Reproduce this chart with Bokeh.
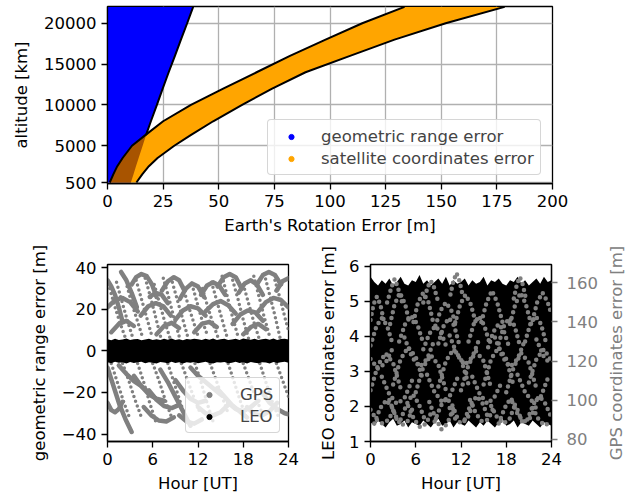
import numpy as np
from bokeh.plotting import figure
from bokeh.layouts import column, row
from bokeh.models import Range1d, LinearAxis, FixedTicker, Legend, LegendItem
from bokeh.embed import file_html
from bokeh.resources import INLINE

# ---------------- data: top panel (altitude vs Earth's rotation error) ----------------
alt_levels = [500, 1500, 2500, 3500, 5000, 6300, 8000, 10000, 12000, 14000, 16000, 18000, 20000, 22000]
geo_edge_x = [10.5, 11.7, 12.8, 14.0, 15.8, 17.3, 19.5, 22.2, 24.8, 27.5, 30.3, 33.0, 35.8, 38.5]
sat_inner_x = [1.0, 2.6, 4.4, 6.8, 11.0, 17.0, 25.0, 37.5, 52.0, 67.0, 82.0, 98.0, 114.5, 133.5]
sat_outer_x = [13.0, 15.6, 18.6, 22.5, 30.0, 37.4, 47.5, 60.5, 74.0, 89.0, 109.0, 129.0, 152.0, 178.5]

x_ticks_top = [0, 25, 50, 75, 100, 125, 150, 175, 200]
y_ticks_top = [500, 5000, 10000, 15000, 20000]

# ---------------- data: bottom panels ----------------
hours = [0.0, 0.5, 1.0, 1.5, 2.0, 2.5, 3.0, 3.5, 4.0, 4.5, 5.0, 5.5, 6.0, 6.5, 7.0, 7.5,
         8.0, 8.5, 9.0, 9.5, 10.0, 10.5, 11.0, 11.5, 12.0, 12.5, 13.0, 13.5, 14.0, 14.5,
         15.0, 15.5, 16.0, 16.5, 17.0, 17.5, 18.0, 18.5, 19.0, 19.5, 20.0, 20.5, 21.0,
         21.5, 22.0, 22.5, 23.0, 23.5, 24.0]
hour_ticks = [0, 6, 12, 18, 24]

# LEO geometric range error: envelope of the dense black band
leo_rng_hi = [5.6, 5.1, 5.8, 5.3, 5.5, 6.0, 5.2, 5.6, 5.7, 5.1,
              5.5, 5.9, 5.3, 5.6, 5.2, 5.8, 5.4, 6.0, 5.3, 5.6,
              5.1, 5.7, 5.5, 5.9, 5.6, 5.2, 5.8, 5.4, 6.0, 5.3,
              5.6, 5.9, 5.2, 5.5, 5.8, 5.3, 6.0, 5.6, 5.4, 5.9,
              5.2, 5.6, 5.8, 5.4, 6.0, 5.3, 5.7, 5.9, 5.5]
leo_rng_lo = [-5.4, -5.9, -5.2, -5.7, -5.5, -6.1, -5.3, -5.8, -5.5, -5.2,
              -5.9, -5.4, -5.7, -6.0, -5.3, -5.6, -5.9, -5.2, -5.8, -5.5,
              -6.0, -5.4, -5.7, -5.3, -5.9, -5.6, -5.2, -5.8, -6.1, -5.4,
              -5.6, -5.3, -5.9, -5.7, -5.2, -5.8, -5.5, -6.0, -5.3, -5.7,
              -5.9, -5.4, -5.6, -6.0, -5.3, -5.8, -5.5, -5.2, -5.7]

# GPS geometric range error passes (hour list, error list)
gps_rng_arcs_up = [
    ([0.0, 0.5, 1.0, 1.5, 2.0], [34, 31, 27, 21, 14]),
    ([1.8, 2.5, 3.2, 3.9], [38, 34, 28, 21]),
    ([3.2, 3.8, 4.5, 5.2, 5.9, 6.5], [32, 35.5, 37, 36, 32, 26]),
    ([7.2, 8.0, 8.8, 9.5, 10.2], [29, 33.5, 35.5, 34, 29]),
    ([9.6, 10.4, 11.2, 12.0, 12.8], [25, 30, 32.5, 31, 26]),
    ([12.4, 13.2, 14.0, 14.8, 15.6], [27, 31.5, 33, 31.5, 27]),
    ([14.6, 15.4, 16.2, 17.0, 17.8], [31, 35.5, 37, 35.5, 30]),
    ([17.4, 18.2, 19.0, 19.8, 20.6], [28, 32.5, 34, 32, 27]),
    ([19.8, 20.6, 21.4, 22.2, 23.0], [32, 36.5, 38, 36.5, 32]),
    ([22.4, 23.2, 24.0], [29, 33.5, 35]),
    ([0.0, 1.0, 2.0, 3.0, 4.0], [21, 24.5, 25.5, 23.5, 19]),
    ([4.4, 5.4, 6.4, 7.4, 8.4], [17, 21.5, 23, 21.5, 17]),
    ([5.6, 6.4, 7.2, 8.0], [26, 28, 27, 23]),
    ([9.0, 10.0, 11.0, 12.0, 13.0], [15, 19.5, 21.5, 20.5, 17]),
    ([13.0, 14.0, 15.0, 16.0, 17.0], [19, 22.5, 24, 22, 18]),
    ([16.6, 17.6, 18.6, 19.6, 20.6], [13, 17.5, 19.5, 18.5, 14.5]),
    ([20.0, 21.0, 22.0, 23.0, 24.0], [19, 23.5, 25.5, 24.5, 21]),
    ([0.5, 1.5, 2.5, 3.5], [9, 13, 14.5, 12]),
    ([6.5, 7.5, 8.5, 9.5], [8, 12, 13.5, 11]),
    ([11.5, 12.5, 13.5, 14.5], [9, 13, 14, 11.5]),
    ([18.0, 19.0, 20.0, 21.0], [8, 11.5, 13, 10.5]),
]
gps_rng_desc_up = [
    ([0.3, 1.0, 1.7, 2.4], [30, 21, 13, 6]),
    ([1.2, 1.9, 2.6, 3.3], [33, 24, 15, 7]),
    ([2.6, 3.3, 4.0, 4.7], [31, 22, 14, 6]),
    ([3.8, 4.5, 5.2, 5.9], [34, 25, 16, 7]),
    ([5.0, 5.7, 6.4, 7.1], [35, 26, 16, 6]),
    ([6.2, 6.9, 7.6, 8.3], [32, 23, 14, 6]),
    ([7.4, 8.1, 8.8, 9.5], [35, 26, 16, 7]),
    ([8.6, 9.3, 10.0, 10.7], [33, 24, 15, 6]),
    ([10.0, 10.7, 11.4, 12.1], [31, 22, 14, 6]),
    ([11.2, 11.9, 12.6, 13.3], [32, 23, 14, 7]),
    ([12.6, 13.3, 14.0, 14.7], [30, 21, 13, 6]),
    ([13.8, 14.5, 15.2, 15.9], [33, 24, 15, 6]),
    ([15.2, 15.9, 16.6, 17.3], [36, 26, 16, 7]),
    ([16.6, 17.3, 18.0, 18.7], [34, 25, 15, 6]),
    ([18.0, 18.7, 19.4, 20.1], [32, 23, 14, 6]),
    ([19.4, 20.1, 20.8, 21.5], [36, 26, 16, 7]),
    ([20.8, 21.5, 22.2, 22.9], [37, 27, 17, 6]),
    ([22.2, 22.9, 23.6, 24.0], [34, 25, 15, 10]),
]
gps_rng_arcs_lo = [
    ([0.0, 0.8, 1.6, 2.4, 3.2], [-8, -17, -26, -33, -39]),
    ([0.0, 0.5, 1.0, 1.5, 2.0], [-25, -28.5, -29.5, -28, -24.5]),
    ([1.5, 2.5, 3.5, 4.5, 5.5], [-7, -11, -14.5, -17, -20]),
    ([3.5, 4.5, 5.5, 6.5, 7.5], [-12, -17, -21, -23, -24]),
    ([4.8, 5.8, 6.8, 7.8, 8.8], [-27, -31, -33.5, -34, -32]),
    ([5.5, 6.5, 7.5, 8.5, 9.5], [-19, -23.5, -26.5, -27.5, -26]),
    ([7.0, 8.0, 9.0, 10.0, 11.0], [-9, -15, -22, -29, -36]),
    ([9.0, 10.0, 11.0, 12.0, 13.0], [-14, -19, -23, -25, -24]),
    ([11.0, 12.0, 13.0, 14.0, 15.0], [-8, -12, -15, -18, -21]),
    ([12.0, 13.0, 14.0, 15.0, 16.0], [-27, -30, -31, -29.5, -26]),
    ([14.5, 15.5, 16.5, 17.5, 18.5], [-18, -22, -26, -29, -32]),
    ([16.0, 17.0, 18.0, 19.0, 20.0], [-25, -28, -29, -27, -24]),
    ([18.5, 19.5, 20.5, 21.5, 22.5], [-27, -30.5, -31, -29, -25]),
    ([20.5, 21.5, 22.5, 23.5, 24.0], [-20, -25, -28, -30, -30.5]),
    ([9.5, 10.5, 11.5, 12.5], [-31, -34, -35, -33]),
]
gps_rng_desc_lo = [
    ([0.5, 1.3, 2.1, 2.9], [-6, -15, -24, -32]),
    ([2.0, 2.8, 3.6, 4.4], [-6, -14, -23, -31]),
    ([4.0, 4.8, 5.6, 6.4], [-6, -15, -25, -34]),
    ([6.0, 6.8, 7.6, 8.4], [-6, -14, -23, -31]),
    ([8.0, 8.8, 9.6, 10.4], [-6, -15, -24, -33]),
    ([9.8, 10.6, 11.4, 12.2], [-6, -14, -22, -29]),
    ([11.6, 12.4, 13.2, 14.0], [-6, -15, -25, -34]),
    ([13.6, 14.4, 15.2, 16.0], [-6, -14, -22, -30]),
    ([16.0, 16.8, 17.6, 18.4], [-6, -15, -24, -32]),
    ([18.0, 18.8, 19.6, 20.4], [-6, -14, -22, -29]),
    ([20.2, 21.0, 21.8, 22.6], [-6, -15, -24, -31]),
    ([22.4, 23.2, 24.0], [-6, -14, -22]),
]
rng_ticks = [-40, -20, 0, 20, 40]

# LEO coordinates error: envelope of the dense black cloud
leo_crd_hi = [5.70, 5.55, 5.45, 5.60, 5.50, 5.65, 5.45, 5.55, 5.70, 5.50,
              5.45, 5.60, 5.55, 5.75, 5.50, 5.60, 5.45, 5.55, 5.65, 5.50,
              5.70, 5.45, 5.60, 5.50, 5.55, 5.65, 5.45, 5.60, 5.50, 5.55,
              5.70, 5.45, 5.60, 5.55, 5.65, 5.50, 5.45, 5.60, 5.55, 5.70,
              5.50, 5.60, 5.45, 5.55, 5.65, 5.50, 5.70, 5.55, 5.60]
leo_crd_lo = [1.55, 1.45, 1.60, 1.50, 1.40, 1.55, 1.65, 1.45, 1.50, 1.60,
              1.40, 1.55, 1.50, 1.45, 1.60, 1.50, 1.40, 1.55, 1.65, 1.45,
              1.50, 1.60, 1.40, 1.55, 1.50, 1.45, 1.60, 1.50, 1.40, 1.55,
              1.45, 1.60, 1.50, 1.40, 1.55, 1.65, 1.45, 1.50, 1.60, 1.40,
              1.55, 1.50, 1.45, 1.60, 1.50, 1.40, 1.55, 1.50, 1.45]
leo_crd_ticks = [1, 2, 3, 4, 5, 6]

# GPS coordinates error passes (hour list, error list)
gps_crd_arches_hi = [
    ([0.0, 0.4, 0.85, 1.3, 1.8], [141, 149, 153, 149, 140]),
    ([2.6, 3.2, 3.9, 4.6, 5.2], [139, 149, 155, 149, 139]),
    ([5.7, 6.3, 7.0, 7.7, 8.3], [140, 150, 155, 150, 140]),
    ([8.6, 9.3, 10.0, 10.7, 11.4], [138, 146, 150, 146, 138]),
    ([11.2, 11.9, 12.6, 13.3, 14.0], [139, 149, 154, 149, 139]),
    ([14.7, 15.4, 16.1, 16.8, 17.5], [140, 150, 156, 150, 140]),
    ([18.5, 19.2, 19.9, 20.6, 21.3], [139, 149, 155, 149, 139]),
    ([21.5, 22.1, 22.8, 23.5, 24.0], [141, 150, 155, 150, 144]),
    ([2.2, 2.8, 3.2, 3.6, 4.2], [150, 158, 162, 158, 150]),
    ([7.0, 7.6, 8.0, 8.4, 9.0], [150, 158, 161, 158, 150]),
    ([10.6, 11.0, 11.4, 11.8, 12.2], [154, 161, 165, 161, 154]),
    ([19.0, 19.4, 19.8, 20.2, 20.6], [152, 159, 163, 159, 152]),
]
gps_crd_arches_mid = [
    ([0.0, 0.8, 1.5, 2.2, 3.0], [128, 138, 142, 138, 128]),
    ([3.8, 4.6, 5.4, 6.2, 7.0], [130, 139, 143, 139, 129]),
    ([7.0, 7.8, 8.6, 9.4, 10.2], [126, 134, 138, 134, 126]),
    ([9.0, 9.7, 10.4, 11.1, 11.8], [129, 138, 142, 138, 128]),
    ([13.0, 13.7, 14.4, 15.1, 15.8], [130, 139, 143, 138, 129]),
    ([15.6, 16.3, 17.0, 17.7, 18.4], [127, 135, 139, 135, 127]),
    ([17.0, 17.7, 18.4, 19.1, 19.8], [129, 138, 142, 138, 128]),
    ([20.5, 21.2, 21.9, 22.6, 23.3], [130, 139, 143, 139, 129]),
    ([4.5, 5.5, 6.5, 7.5, 8.5], [132, 122, 117, 121, 131]),
    ([10.5, 11.5, 12.5, 13.5, 14.5], [133, 123, 118, 122, 132]),
    ([16.5, 17.5, 18.5, 19.5, 20.5], [132, 122, 117, 121, 131]),
    ([22.0, 23.0, 24.0], [131, 122, 118]),
    ([0.0, 1.0, 2.0, 3.0], [121, 116, 119, 127]),
]
gps_crd_arcs_low = [
    ([0, 1, 2, 3, 4], [105, 118, 124, 119, 106]),
    ([3, 4, 5, 6, 7], [108, 121, 127, 122, 110]),
    ([6, 7, 8, 9, 10], [104, 117, 123, 118, 105]),
    ([9, 10, 11, 12, 13], [107, 120, 126, 121, 108]),
    ([12, 13, 14, 15, 16], [105, 118, 125, 120, 106]),
    ([15, 16, 17, 18, 19], [108, 121, 127, 121, 107]),
    ([18, 19, 20, 21, 22], [104, 117, 124, 119, 106]),
    ([21, 22, 23, 24], [109, 121, 126, 120]),
    ([1.5, 2.5, 3.5, 4.5, 5.5], [112, 103, 98, 101, 110]),
    ([7.5, 8.5, 9.5, 10.5, 11.5], [113, 104, 99, 102, 111]),
    ([13.5, 14.5, 15.5, 16.5, 17.5], [112, 103, 98, 102, 110]),
    ([19.5, 20.5, 21.5, 22.5, 23.5], [113, 104, 99, 101, 111]),
    ([0.0, 0.8, 1.6, 2.4, 3.2], [95, 90, 88, 90, 96]),
    ([2.5, 3.3, 4.1, 4.9, 5.7], [100, 92, 87, 89, 97]),
    ([5.0, 5.8, 6.6, 7.4, 8.2], [97, 90, 86, 88, 95]),
    ([7.8, 8.6, 9.4, 10.2, 11.0], [99, 91, 85, 88, 96]),
    ([10.5, 11.3, 12.1, 12.9, 13.7], [96, 90, 88, 91, 99]),
    ([13.2, 14.0, 14.8, 15.6, 16.4], [100, 93, 89, 90, 97]),
    ([16.0, 16.8, 17.6, 18.4, 19.2], [97, 91, 88, 90, 98]),
    ([18.8, 19.6, 20.4, 21.2, 22.0], [99, 92, 89, 91, 97]),
    ([21.5, 22.3, 23.1, 24.0], [96, 90, 87, 89]),
    ([0.5, 1.3, 2.1, 2.9, 3.7], [88, 96, 100, 96, 88]),
    ([4.0, 4.8, 5.6, 6.4, 7.2], [90, 98, 103, 98, 90]),
    ([8.5, 9.3, 10.1, 10.9, 11.7], [89, 97, 101, 97, 89]),
    ([12.5, 13.3, 14.1, 14.9, 15.7], [90, 98, 102, 98, 90]),
    ([17.0, 17.8, 18.6, 19.4, 20.2], [88, 96, 101, 96, 88]),
    ([20.8, 21.6, 22.4, 23.2, 24.0], [90, 98, 102, 98, 91]),
]
gps_crd_ticks = [80, 100, 120, 140, 160]

# ---------------- styling helpers ----------------
FONT = "DejaVu Sans"
FS = "16.5px"
GRAY = "#808080"
BLUE = "#0000ff"
ORANGE = "#ffa500"
BROWN = "#a85400"


def style_axis(ax, color="black", tick_color="black", label_standoff=5, axis_standoff=8):
    ax.axis_label_text_font = FONT
    ax.axis_label_text_font_size = FS
    ax.axis_label_text_font_style = "normal"
    ax.axis_label_text_color = color
    ax.major_label_text_font = FONT
    ax.major_label_text_font_size = FS
    ax.major_label_text_color = color
    ax.major_tick_out = 6
    ax.major_tick_in = 0
    ax.minor_tick_out = 0
    ax.minor_tick_in = 0
    ax.major_tick_line_width = 1.3
    ax.major_tick_line_color = tick_color
    ax.axis_line_width = 1.3
    ax.axis_line_color = "black"
    ax.major_label_standoff = label_standoff
    ax.axis_label_standoff = axis_standoff


def base(p):
    p.outline_line_color = "black"
    p.outline_line_width = 1.3
    p.background_fill_color = "white"
    p.border_fill_color = "white"


def make_legend(items, loc, glyph_w, standoff):
    lg = Legend(items=items, location=loc, orientation="vertical",
                label_text_font=FONT, label_text_font_size=FS,
                glyph_width=glyph_w, glyph_height=13, label_height=20,
                label_standoff=standoff, padding=6, spacing=2, margin=0,
                border_line_color="#cccccc", border_line_alpha=0.8,
                background_fill_color="white", background_fill_alpha=0.8)
    try:
        lg.border_radius = 4
    except Exception:
        pass
    return lg


NO_POS = np.array([np.nan])  # legend-only handles: no position in the plot

# ---------------- top panel ----------------
p1 = figure(width=569, height=243, x_range=Range1d(0, 200), y_range=Range1d(380, 22050),
            output_backend="svg", toolbar_location=None, tools="",
            min_border_left=107, min_border_right=17, min_border_top=6, min_border_bottom=60)
base(p1)
p1.xgrid.grid_line_color = "#b0b0b0"
p1.ygrid.grid_line_color = "#b0b0b0"
p1.xgrid.grid_line_width = 1.3
p1.ygrid.grid_line_width = 1.3
p1.xaxis.ticker = FixedTicker(ticks=x_ticks_top)
p1.yaxis.ticker = FixedTicker(ticks=y_ticks_top)
p1.xaxis.axis_label = "Earth's Rotation Error [m]"
p1.yaxis.axis_label = "altitude [km]"
style_axis(p1.xaxis[0], axis_standoff=6)
style_axis(p1.yaxis[0], axis_standoff=10)

alt = np.array(alt_levels, dtype=float)
geo = np.array(geo_edge_x, dtype=float)
inner = np.array(sat_inner_x, dtype=float)
outer = np.array(sat_outer_x, dtype=float)

p1.harea(x1=np.zeros_like(geo), x2=geo, y=alt, fill_color=BLUE)
p1.harea(x1=inner, x2=outer, y=alt, fill_color=ORANGE)
brown_right = np.maximum(inner, np.minimum(geo, outer))
p1.harea(x1=inner, x2=brown_right, y=alt, fill_color=BROWN)
edge_mask = inner >= geo - 1.0
p1.line(geo[edge_mask], alt[edge_mask], line_color="black", line_width=2)
p1.line(inner, alt, line_color="black", line_width=2, line_join="round")
p1.line(outer, alt, line_color="black", line_width=2, line_join="round")

r_geo = p1.scatter(x=NO_POS, y=NO_POS, marker="circle", fill_color=BLUE, line_color=BLUE, size=5)
r_sat = p1.scatter(x=NO_POS, y=NO_POS, marker="circle", fill_color=ORANGE, line_color=ORANGE, size=5)
p1.add_layout(make_legend([LegendItem(label="geometric range error", renderers=[r_geo]),
                           LegendItem(label="satellite coordinates error", renderers=[r_sat])],
                          (160, 8), 34, 13))

# ---------------- bottom-left panel ----------------
p2 = figure(width=300, height=258, x_range=Range1d(0, 24), y_range=Range1d(-43.6, 41.6),
            output_backend="svg", toolbar_location=None, tools="",
            min_border_left=107, min_border_right=12, min_border_top=21, min_border_bottom=60)
base(p2)
p2.grid.visible = False
p2.xaxis.ticker = FixedTicker(ticks=hour_ticks)
p2.yaxis.ticker = FixedTicker(ticks=rng_ticks)
p2.yaxis.major_label_overrides = {-40: "\u221240", -20: "\u221220"}
p2.xaxis.axis_label = "Hour [UT]"
p2.yaxis.axis_label = "geometric range error [m]"
style_axis(p2.xaxis[0], axis_standoff=6)
style_axis(p2.yaxis[0], axis_standoff=10)

dense = gps_rng_arcs_up + gps_rng_arcs_lo
sparse = gps_rng_desc_up + gps_rng_desc_lo
p2.multi_line(xs=[a[0] for a in dense], ys=[a[1] for a in dense], line_color=GRAY,
              line_width=4.5, line_cap="round", line_join="round")
p2.multi_line(xs=[a[0] for a in sparse], ys=[a[1] for a in sparse], line_color=GRAY,
              line_width=3.5, line_dash="0 5", line_cap="round")
p2.varea(x=hours, y1=leo_rng_lo, y2=leo_rng_hi, fill_color="black")

r_gps = p2.scatter(x=NO_POS, y=NO_POS, marker="circle", fill_color=GRAY, line_color=GRAY, size=5)
r_leo = p2.scatter(x=NO_POS, y=NO_POS, marker="circle", fill_color="black", line_color="black", size=5)
p2.add_layout(make_legend([LegendItem(label="GPS", renderers=[r_gps]),
                           LegendItem(label="LEO", renderers=[r_leo])],
                          (78, 8), 34, 14))

# ---------------- bottom-right panel ----------------
p3 = figure(width=303, height=258, x_range=Range1d(0, 24), y_range=Range1d(1.0, 6.05),
            output_backend="svg", toolbar_location=None, tools="",
            min_border_left=70, min_border_right=52, min_border_top=21, min_border_bottom=60)
base(p3)
p3.grid.visible = False
p3.extra_y_ranges = {"gps": Range1d(78.8, 169.4)}
p3.xaxis.ticker = FixedTicker(ticks=hour_ticks)
p3.yaxis.ticker = FixedTicker(ticks=leo_crd_ticks)
p3.xaxis.axis_label = "Hour [UT]"
p3.yaxis.axis_label = "LEO coordinates error [m]"
style_axis(p3.xaxis[0], axis_standoff=6)
style_axis(p3.yaxis[0], axis_standoff=8)

ax_r = LinearAxis(y_range_name="gps", ticker=FixedTicker(ticks=gps_crd_ticks))
style_axis(ax_r, color=GRAY, tick_color=GRAY, label_standoff=9, axis_standoff=6)
p3.add_layout(ax_r, "right")

p3.varea(x=hours, y1=leo_crd_lo, y2=leo_crd_hi, fill_color="black")
gps_crd_all = gps_crd_arcs_low + gps_crd_arches_mid + gps_crd_arches_hi
p3.multi_line(xs=[a[0] for a in gps_crd_all], ys=[a[1] for a in gps_crd_all],
              y_range_name="gps", line_color=GRAY, line_width=4.5,
              line_dash="0 6", line_cap="round")

# narrow strip whose left-axis title is the twin axis title (reads bottom-to-top)
p4 = figure(width=24, height=258, x_range=Range1d(0, 1), y_range=Range1d(0, 1),
            output_backend="svg", toolbar_location=None, tools="",
            min_border_left=22, min_border_right=0, min_border_top=21, min_border_bottom=60)
p4.xaxis.visible = False
p4.grid.visible = False
p4.outline_line_color = None
p4.background_fill_color = "white"
p4.border_fill_color = "white"
p4.yaxis.ticker = FixedTicker(ticks=[])
p4.yaxis.axis_label = "GPS coordinates error [m]"
style_axis(p4.yaxis[0], color=GRAY, axis_standoff=0)
p4.yaxis.major_tick_out = 0
p4.yaxis.major_label_standoff = 0
p4.yaxis.axis_line_color = None

layout = column(p1, row(p2, p3, p4))
open("out.html", "w").write(file_html(layout, INLINE))
